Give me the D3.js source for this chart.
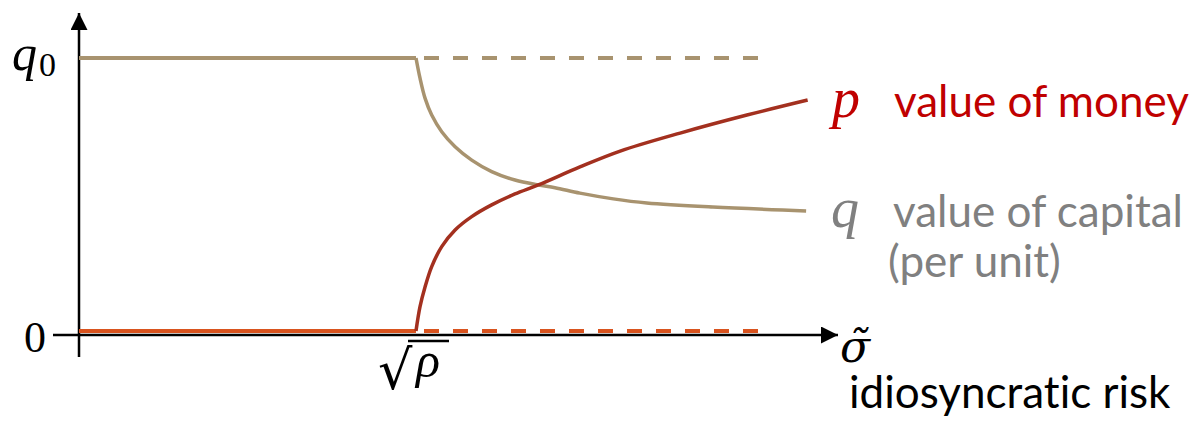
<!DOCTYPE html>
<html>
<head>
<meta charset="utf-8">
<script src="https://cdn.jsdelivr.net/npm/d3@7"></script>
<style>
  html, body { margin: 0; padding: 0; background: #fff; }
  svg { display: block; }
  text { font-variant-ligatures: none; }
</style>
</head>
<body>
<svg id="chart" width="1197" height="430"></svg>
<script>
// Idiosyncratic risk (sigma, 0..100 axis units) and the two prices
const sqrtRho = 44.4;     // threshold sqrt(rho)
const dashEnd = 90;       // end of the dashed reference levels
const q0 = 1;

// q: value of capital (per unit) above the threshold, normalised so q0 = 1
const qSigma = [44.4, 44.93, 45.6, 46.47, 47.79, 49.55, 51.74, 54.37, 57.44, 60.51, 62.71, 66.0, 70.4, 74.8, 83.5, 95.8];
const qValue = [1, 0.926, 0.852, 0.791, 0.730, 0.675, 0.626, 0.584, 0.553, 0.535, 0.525, 0.505, 0.484, 0.469, 0.454, 0.440];

// p: value of money above the threshold
const pSigma = [44.4, 44.93, 45.6, 46.47, 47.79, 49.55, 51.74, 54.37, 57.44, 60.51, 66.0, 71.3, 79.2, 88.0, 96.0];
const pValue = [0, 0.089, 0.162, 0.236, 0.309, 0.370, 0.419, 0.462, 0.502, 0.535, 0.601, 0.659, 0.725, 0.791, 0.846];

const svg = d3.select("#chart");

const x = d3.scaleLinear().domain([0, 100]).range([79, 838]);
const y = d3.scaleLinear().domain([0, 1]).range([331, 58]);
const axisY = y(0) + 4;

const tan = "#a8936f";
const moneyRed = "#a3301f";
const zeroRed = "#d9531e";

// arrow marker
svg.append("defs").append("marker")
  .attr("id", "arrow")
  .attr("viewBox", "0 0 10 10")
  .attr("refX", 10).attr("refY", 5)
  .attr("markerWidth", 17).attr("markerHeight", 17)
  .attr("markerUnits", "userSpaceOnUse")
  .attr("orient", "auto")
  .append("path")
  .attr("d", "M0,0 L10,5 L0,10 Z")
  .attr("fill", "#000");

// axes
svg.append("line")
  .attr("x1", x(0)).attr("y1", 357)
  .attr("x2", x(0)).attr("y2", 13)
  .attr("stroke", "#000").attr("stroke-width", 2.5)
  .attr("marker-end", "url(#arrow)");
svg.append("line")
  .attr("x1", 53).attr("y1", axisY)
  .attr("x2", x(100)).attr("y2", axisY)
  .attr("stroke", "#000").attr("stroke-width", 2.5)
  .attr("marker-end", "url(#arrow)");

// dashed reference levels beyond the threshold
svg.append("line")
  .attr("x1", x(sqrtRho)).attr("x2", x(dashEnd))
  .attr("y1", y(q0)).attr("y2", y(q0))
  .attr("stroke", tan).attr("stroke-width", 4)
  .attr("stroke-dasharray", "15,14").attr("stroke-dashoffset", -8);
svg.append("line")
  .attr("x1", x(sqrtRho)).attr("x2", x(dashEnd))
  .attr("y1", y(0)).attr("y2", y(0))
  .attr("stroke", zeroRed).attr("stroke-width", 4)
  .attr("stroke-dasharray", "15,14").attr("stroke-dashoffset", -8);

// flat segments below the threshold: q = q0, p = 0
svg.append("line")
  .attr("x1", x(0)).attr("x2", x(sqrtRho))
  .attr("y1", y(q0)).attr("y2", y(q0))
  .attr("stroke", tan).attr("stroke-width", 4);
svg.append("line")
  .attr("x1", x(0)).attr("x2", x(sqrtRho))
  .attr("y1", y(0)).attr("y2", y(0))
  .attr("stroke", zeroRed).attr("stroke-width", 4);

const qData = qSigma.map((s, i) => [s, qValue[i]]);
const pData = pSigma.map((s, i) => [s, pValue[i]]);

const line = d3.line().x(d => x(d[0])).y(d => y(d[1])).curve(d3.curveCatmullRom.alpha(0.5));

svg.append("path").datum(qData)
  .attr("d", line)
  .attr("fill", "none").attr("stroke", tan).attr("stroke-width", 3.5);

svg.append("path").datum(pData)
  .attr("d", line)
  .attr("fill", "none").attr("stroke", moneyRed).attr("stroke-width", 3.5);

// axis labels
const math = "'Liberation Serif', 'DejaVu Serif', serif";
const sans = "Lato, 'Open Sans', sans-serif";

const q0Label = svg.append("text")
  .attr("x", 12).attr("y", 70)
  .attr("font-family", math).attr("font-size", 50).attr("fill", "#000");
q0Label.append("tspan").attr("font-style", "italic").text("q");
q0Label.append("tspan").attr("font-size", 34).attr("dx", 2).attr("dy", 6).text("0");

svg.append("text")
  .attr("x", 24).attr("y", 352)
  .attr("font-family", math).attr("font-size", 44).attr("fill", "#000")
  .text("0");

// sqrt(rho) tick label
svg.append("text")
  .attr("x", 378).attr("y", 389)
  .attr("font-family", "'DejaVu Sans', sans-serif").attr("font-size", 54).attr("fill", "#000")
  .text("√");
svg.append("line")
  .attr("x1", 408).attr("x2", 449).attr("y1", 341).attr("y2", 341)
  .attr("stroke", "#000").attr("stroke-width", 2.5);
svg.append("text")
  .attr("x", 416).attr("y", 377)
  .attr("font-family", math).attr("font-style", "italic").attr("font-size", 50).attr("fill", "#000")
  .text("ρ");

// sigma-tilde axis title
svg.append("text")
  .attr("x", 840).attr("y", 362)
  .attr("font-family", "'DejaVu Serif', serif").attr("font-style", "italic").attr("font-size", 44).attr("fill", "#000")
  .text("σ\u0303");

svg.append("text")
  .attr("x", 849).attr("y", 408)
  .attr("font-family", sans).attr("font-size", 44).attr("fill", "#000")
  .text("idiosyncratic risk");

// series labels
svg.append("text")
  .attr("x", 832).attr("y", 117)
  .attr("font-family", math).attr("font-style", "italic").attr("font-size", 56).attr("fill", "#c00000")
  .text("p");
svg.append("text")
  .attr("x", 894).attr("y", 117)
  .attr("font-family", sans).attr("font-size", 44).attr("fill", "#c00000")
  .text("value of money");

svg.append("text")
  .attr("x", 831).attr("y", 227)
  .attr("font-family", math).attr("font-style", "italic").attr("font-size", 56).attr("fill", "#808080")
  .text("q");
svg.append("text")
  .attr("x", 893).attr("y", 227)
  .attr("font-family", sans).attr("font-size", 44).attr("fill", "#808080")
  .text("value of capital");
svg.append("text")
  .attr("x", 888).attr("y", 277)
  .attr("font-family", sans).attr("font-size", 44).attr("fill", "#808080")
  .text("(per unit)");
</script>
</body>
</html>
